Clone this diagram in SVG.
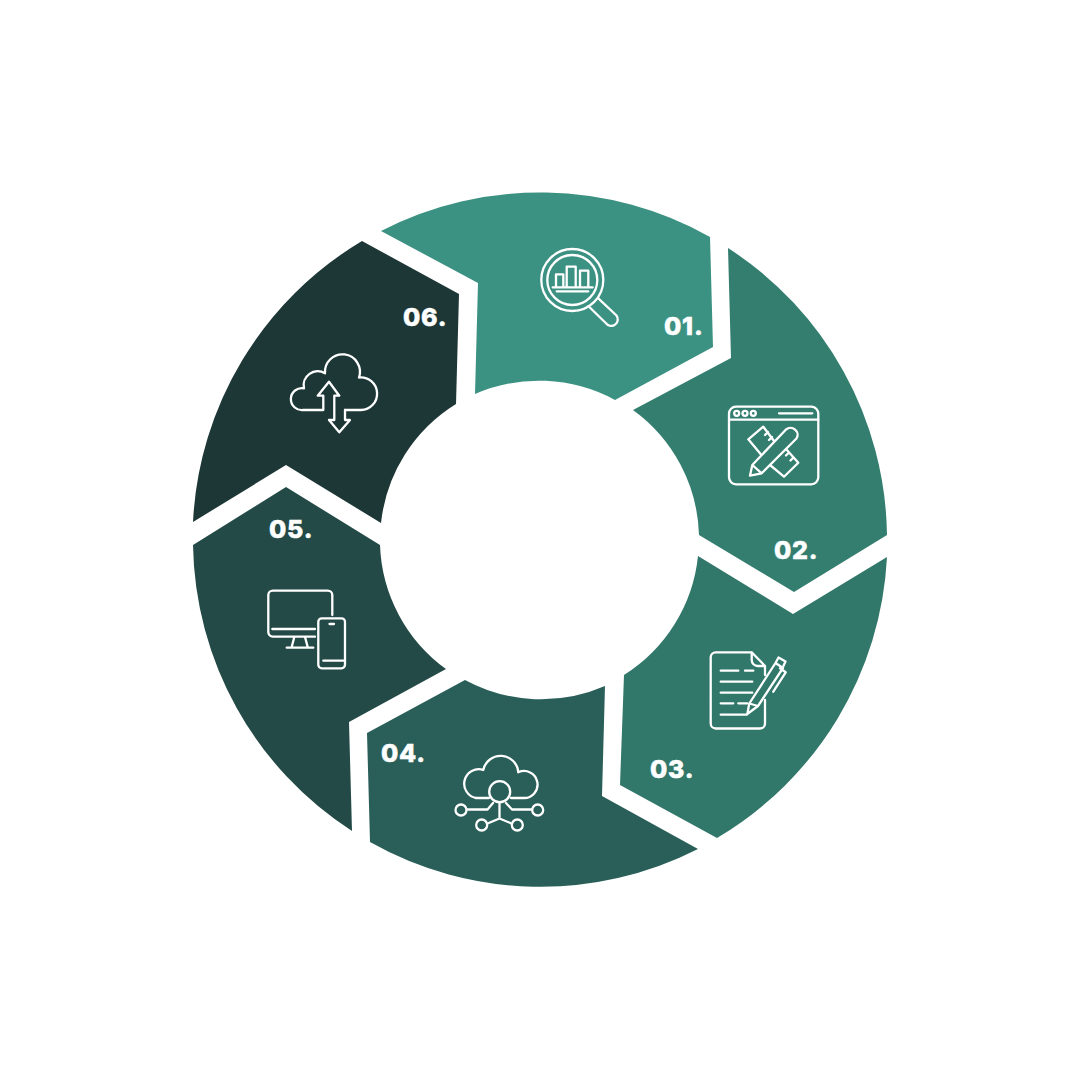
<svg xmlns="http://www.w3.org/2000/svg" width="1080" height="1080" viewBox="0 0 1080 1080">
<style>
.i{fill:none;stroke:#fff;stroke-width:2.3;stroke-linecap:round;stroke-linejoin:round}
.t{font-family:"Inter","Liberation Sans",sans-serif;font-weight:800;font-size:25px;letter-spacing:.8px;fill:#fff;stroke:#fff;stroke-width:.5px}
</style>
<rect width="1080" height="1080" fill="#fff"/>
<g id="node-01">
<path fill="#3b9282" d="M381 231A347 347 0 0 1 710 237L713 347L615 400A160 160 0 0 0 475 394L478 283Z"/>
<g class="i">
<circle cx="572.3" cy="280" r="31"/><circle cx="572.3" cy="280" r="25"/>
<path d="M556 286.7V274.3H563.3V286.7M566.7 286.7V266.7H575.7V286.7M580 286.7V270.7H588.3V286.7M552.7 287.3H592.7M556.7 291.3H588.3"/>
<path d="M588.3 306L606 323.3A6.5 6.5 0 0 0 616.5 315.5L598.3 298.3"/>
</g>
<text class="t" x="664" y="335">01.</text>
</g>
<g id="node-02">
<path fill="#347e70" d="M728 248A347 347 0 0 1 887 535L794 592L699 535A160 160 0 0 0 633 410L731 358Z"/>
<g class="i">
<rect x="729" y="406.7" width="89.3" height="77.6" rx="7"/>
<path d="M729 419.7H818.3M779 413.3H812.3"/>
<circle cx="736.7" cy="413.3" r="2.5"/><circle cx="745" cy="413.3" r="2.5"/><circle cx="753.3" cy="413.3" r="2.5"/>
<path d="M750 475.7L752.3 465L786 429.5A7 7 0 0 1 796.5 438.5L761.7 473.3ZM752.3 465L761.7 473.3"/>
<path d="M761 454.5L748.3 439.3L763.3 426.7L774 441M768 432L765 435M772 437L769 440"/>
<path d="M770 465L784 476.7L798.3 462.7L786 449M789 452.5L786 455.5M793.5 457.5L790.5 460.5"/>
</g>
<text class="t" x="774" y="559">02.</text>
</g>
<g id="node-03">
<path fill="#31776a" d="M698 556L793 614L887 557A347 347 0 0 1 717 838L620 785L624 675A160 160 0 0 0 698 556Z"/>
<g class="i">
<path d="M751.7 652.3H715.7A5 5 0 0 0 710.7 657.3V723.5A5 5 0 0 0 715.7 728.5H760A5 5 0 0 0 765 723.5V700M751.7 652.3L765 666V675M751.7 652.3V660A6 6 0 0 0 757.7 666H765"/>
<path d="M720.7 670.7H738.3M745 670.7H753.3M720.7 681.7H752.3M720.7 692.7H752.3M720.7 703.3H733.3M738.3 703.3H747.3M720.7 714.7H746.7"/>
<path d="M747.3 714L749.3 703.5L775.5 663L783 668L758 706ZM749.3 703.5L758 706M775.5 663L778.5 657.5L785.5 661.5L782.5 668M780 668.3L785.7 672.3L773.3 691.7"/>
</g>
<text class="t" x="650" y="778">03.</text>
</g>
<g id="node-04">
<path fill="#2a5f59" d="M698 849A347 347 0 0 1 370 842L367 733L465 680A160 160 0 0 0 605 686L602 796Z"/>
<g class="i">
<path d="M489 798H476A14.5 14.5 0 1 1 483.3 770A17.7 17.7 0 0 1 518.3 772.3A13.5 13.5 0 1 1 523.3 798H511"/>
<circle cx="499.7" cy="791.7" r="10.5"/>
<circle cx="461" cy="810" r="5.5"/><circle cx="537.7" cy="810" r="5.5"/><circle cx="481.7" cy="825" r="5.5"/><circle cx="517.3" cy="825" r="5.5"/>
<path d="M467 809.5H487.5L493 803M532 809.5H512L506 803M499.5 803V818.5L487.5 823.5M499.5 818.5L511.5 823.5"/>
</g>
<text class="t" x="381" y="762">04.</text>
</g>
<g id="node-05">
<path fill="#234a46" d="M352 831A347 347 0 0 1 193 545L286 487L380 545A160 160 0 0 0 446 669L349 722Z"/>
<g class="i">
<path d="M332.3 615V595A4.5 4.5 0 0 0 327.8 590.7H272.8A4.5 4.5 0 0 0 268.3 595V632A4.5 4.5 0 0 0 272.8 636.7H315M272.3 629H315M294.3 637L291.7 647M305 637L307.7 647M286.7 647.7H313.3"/>
<rect x="318.3" y="618.3" width="26.7" height="50" rx="3.5"/>
<path d="M323.3 660.7H345M329.5 624H334"/>
</g>
<text class="t" x="269" y="538">05.</text>
</g>
<g id="node-06">
<path fill="#1d3736" d="M193 522A347 347 0 0 1 362 241L459 294L456 404A160 160 0 0 0 381 523L286 465Z"/>
<g class="i">
<path d="M322.7 410H303.3A11 11 0 1 1 304 388.3A14 14 0 0 1 325 373.3A17.5 17.5 0 1 1 359 377.5A16.3 16.3 0 1 1 361 410H345"/>
<path d="M323.3 410V395.7H317.7L329 381.7L339.3 395.7H334.3V420H329L339.3 432.3L350 420H345V410"/>
</g>
<text class="t" x="403" y="326">06.</text>
</g>
<g id="connectors"></g>
</svg>
